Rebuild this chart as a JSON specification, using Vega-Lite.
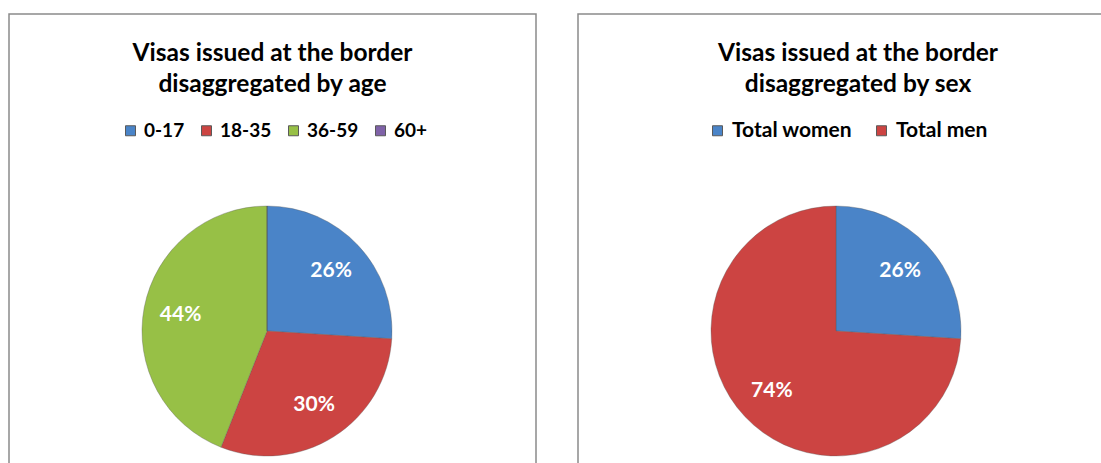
{
  "$schema": "https://vega.github.io/schema/vega-lite/v6.json",
  "background": "#ffffff",
  "padding": {"left": 8, "top": 13, "right": 0, "bottom": 0},
  "spacing": 40,
  "config": {
    "view": {"stroke": "#8a8a8a", "strokeWidth": 1.5},
    "font": "Lato",
    "title": {"font": "Lato", "fontSize": 24.5, "fontWeight": "bold", "color": "#000000", "lineHeight": 31, "anchor": "middle"},
    "legend": {"labelFont": "Lato", "labelFontWeight": "bold", "labelColor": "#000000", "symbolType": "square", "symbolSize": 100, "symbolStrokeWidth": 1, "labelOffset": 4}
  },
  "resolve": {"scale": {"color": "independent", "theta": "independent"}, "legend": {"color": "independent"}},
  "hconcat": [
    {
      "width": 527,
      "height": 634,
      "title": {"text": ["Visas issued at the border", "disaggregated by age"], "offset": -83},
      "data": {"values": [
        {"age": "0-17", "i": 1, "pct": 0.26},
        {"age": "18-35", "i": 2, "pct": 0.30},
        {"age": "36-59", "i": 3, "pct": 0.44},
        {"age": "60+", "i": 4, "pct": 0}
      ]},
      "encoding": {
        "theta": {"field": "pct", "type": "quantitative", "stack": true},
        "order": {"field": "i", "type": "quantitative"}
      },
      "layer": [
        {
          "mark": {"type": "arc", "outerRadius": 125, "stroke": "#5a5a5a", "strokeOpacity": 0.35, "strokeWidth": 1},
          "encoding": {
            "x": {"value": 258},
            "color": {
              "field": "age", "type": "nominal",
              "scale": {"domain": ["0-17", "18-35", "36-59", "60+"], "range": ["#4A84C8", "#CC4442", "#97C046", "#7F62A8"]},
              "legend": {"title": null, "orient": "none", "direction": "horizontal", "legendX": 112, "legendY": 107, "labelFontSize": 19, "columnPadding": 12}
            }
          }
        },
        {
          "transform": [{"filter": "datum.pct > 0"}],
          "mark": {"type": "text", "radius": 88, "font": "Lato", "fontSize": 21, "fontWeight": "bold", "color": "#ffffff"},
          "encoding": {
            "x": {"value": 258},
            "text": {"field": "pct", "type": "quantitative", "format": ".0%"}
          }
        }
      ]
    },
    {
      "width": 560,
      "height": 634,
      "title": {"text": ["Visas issued at the border", "disaggregated by sex"], "offset": -83},
      "data": {"values": [
        {"sex": "Total women", "i": 1, "pct": 0.26},
        {"sex": "Total men", "i": 2, "pct": 0.74}
      ]},
      "encoding": {
        "theta": {"field": "pct", "type": "quantitative", "stack": true},
        "order": {"field": "i", "type": "quantitative"}
      },
      "layer": [
        {
          "mark": {"type": "arc", "outerRadius": 125, "stroke": "#5a5a5a", "strokeOpacity": 0.35, "strokeWidth": 1},
          "encoding": {
            "x": {"value": 258},
            "color": {
              "field": "sex", "type": "nominal",
              "scale": {"domain": ["Total women", "Total men"], "range": ["#4A84C8", "#CC4442"]},
              "legend": {"title": null, "orient": "none", "direction": "horizontal", "legendX": 129, "legendY": 106, "labelFontSize": 21, "columnPadding": 18}
            }
          }
        },
        {
          "transform": [{"filter": "datum.pct > 0"}],
          "mark": {"type": "text", "radius": 88, "font": "Lato", "fontSize": 21, "fontWeight": "bold", "color": "#ffffff"},
          "encoding": {
            "x": {"value": 258},
            "text": {"field": "pct", "type": "quantitative", "format": ".0%"}
          }
        }
      ]
    }
  ]
}
